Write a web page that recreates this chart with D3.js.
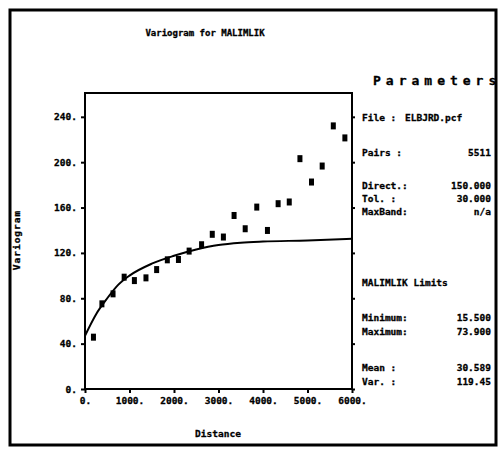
<!DOCTYPE html>
<html>
<head>
<meta charset="utf-8">
<title>Variogram</title>
<script src="https://cdn.jsdelivr.net/npm/d3@7"></script>
<style>
  body { margin: 0; background: #fff; }
  text { font-family: "DejaVu Sans Mono", monospace; font-weight: bold; fill: #000; stroke: #000; stroke-width: 0.3; }
</style>
</head>
<body>
<svg id="chart" width="501" height="450"></svg>
<script>
var lagDist = [190, 380, 630, 880, 1110, 1370, 1610, 1850, 2100, 2340, 2620, 2860,
               3110, 3350, 3600, 3860, 4100, 4340, 4590, 4830, 5090, 5330, 5580, 5840];
var gammaVal = [45.7, 75.1, 83.9, 98.6, 95.6, 98.0, 105.3, 113.9, 114.2, 121.6, 127.2, 136.4,
                134.0, 153.0, 141.3, 160.4, 139.8, 163.4, 164.9, 203.1, 182.5, 196.6, 232.0, 221.4];

// model curve, read at a few distances
var modelDist = [0, 250, 500, 750, 1000, 1500, 2000, 2500, 3000, 3500, 4000, 5000, 6000];
var modelVal = [47, 66, 80, 92, 100, 110.5, 117.5, 123, 127, 129, 130, 131, 132.5];

var xTicks = [0, 1000, 2000, 3000, 4000, 5000, 6000];
var yTicks = [0, 40, 80, 120, 160, 200, 240];

// side panel
var paramLabels = ["File  :", "Pairs  :", "Direct.:", "Tol.   :", "MaxBand:"];
var paramValues = ["ELBJRD.pcf", "5511", "150.000", "30.000", "n/a"];
var limitLabels = ["Minimum:", "Maximum:", "Mean   :", "Var.   :"];
var limitValues = ["15.500", "73.900", "30.589", "119.45"];

var svg = d3.select("#chart");

// outer frame
svg.append("rect")
    .attr("x", 10).attr("y", 10)
    .attr("width", 486).attr("height", 435)
    .attr("fill", "none").attr("stroke", "#000").attr("stroke-width", 3);

var x = d3.scaleLinear().domain([0, 6000]).range([85, 352]),
    y = d3.scaleLinear().domain([0, 261]).range([389, 93]);

// plot box
svg.append("rect")
    .attr("x", x(0)).attr("y", y(261))
    .attr("width", x(6000) - x(0)).attr("height", y(0) - y(261))
    .attr("fill", "none").attr("stroke", "#000").attr("stroke-width", 2);

var fmt = function(d) { return d + "."; };

var gx = svg.append("g")
    .attr("transform", "translate(0," + y(0) + ")")
    .call(d3.axisBottom(x).tickValues(xTicks).tickSize(4).tickPadding(4).tickFormat(fmt));
var gy = svg.append("g")
    .attr("transform", "translate(" + x(0) + ",0)")
    .call(d3.axisLeft(y).tickValues(yTicks).tickSize(4).tickPadding(4).tickFormat(fmt));
var gr = svg.append("g")
    .attr("transform", "translate(" + x(6000) + ",0)")
    .call(d3.axisRight(y).tickValues(yTicks).tickSize(3).tickFormat(""));

[gx, gy, gr].forEach(function(g) {
    g.select(".domain").remove();
    g.selectAll(".tick line").attr("stroke", "#000").attr("stroke-width", 2);
    g.selectAll(".tick text")
        .attr("font-family", "DejaVu Sans Mono")
        .attr("font-weight", "bold")
        .attr("font-size", 9.5)
        .attr("fill", "#000");
});

// model curve
var line = d3.line()
    .curve(d3.curveMonotoneX)
    .x(function(d, i) { return x(modelDist[i]); })
    .y(function(d) { return y(d); });

svg.append("path")
    .datum(modelVal)
    .attr("d", line)
    .attr("fill", "none")
    .attr("stroke", "#000")
    .attr("stroke-width", 2);

// points
svg.selectAll(".pt")
    .data(gammaVal)
    .enter().append("rect")
    .attr("class", "pt")
    .attr("x", function(d, i) { return x(lagDist[i]) - 2.5; })
    .attr("y", function(d) { return y(d) - 3.5; })
    .attr("width", 5)
    .attr("height", 7)
    .attr("fill", "#000");

// titles
svg.append("text")
    .attr("x", 205).attr("y", 36)
    .attr("text-anchor", "middle")
    .attr("font-size", 9)
    .text("Variogram for MALIMLIK");

svg.append("text")
    .attr("x", 218).attr("y", 437)
    .attr("text-anchor", "middle")
    .attr("font-size", 9.5)
    .text("Distance");

svg.append("text")
    .attr("transform", "translate(20,240) rotate(-90)")
    .attr("text-anchor", "middle")
    .attr("font-size", 9.5)
    .attr("letter-spacing", 1)
    .text("Variogram");

svg.append("text")
    .attr("x", 373).attr("y", 85)
    .attr("font-size", 13)
    .attr("letter-spacing", 5)
    .text("Parameters");

// parameter block
var paramY = [121, 156, 189, 202, 215];
paramLabels.forEach(function(lbl, i) {
    svg.append("text").attr("x", 362).attr("y", paramY[i])
        .attr("font-size", 9.5).text(lbl);
});
paramValues.forEach(function(v, i) {
    var t = svg.append("text").attr("y", paramY[i]).attr("font-size", 9.5).text(v);
    if (i === 0) t.attr("x", 405);
    else t.attr("x", 491).attr("text-anchor", "end");
});

svg.append("text")
    .attr("x", 362).attr("y", 286)
    .attr("font-size", 9.5)
    .text("MALIMLIK Limits");

var limitY = [321, 335, 371, 385];
limitLabels.forEach(function(lbl, i) {
    svg.append("text").attr("x", 362).attr("y", limitY[i])
        .attr("font-size", 9.5).text(lbl);
    svg.append("text").attr("x", 491).attr("y", limitY[i])
        .attr("text-anchor", "end")
        .attr("font-size", 9.5).text(limitValues[i]);
});
</script>
</body>
</html>
